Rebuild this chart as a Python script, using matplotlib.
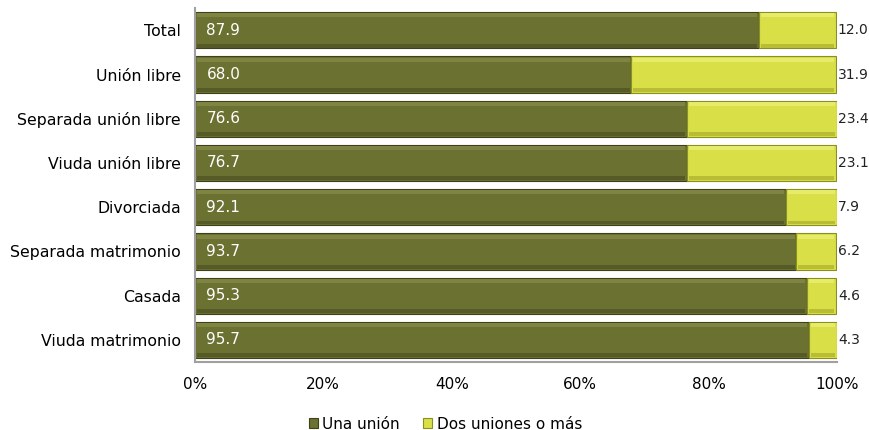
import numpy as np
import matplotlib.pyplot as plt

categories = ["Total", "Unión libre", "Separada unión libre", "Viuda unión libre",
              "Divorciada", "Separada matrimonio", "Casada", "Viuda matrimonio"]
una_union = [87.9, 68.0, 76.6, 76.7, 92.1, 93.7, 95.3, 95.7]
dos_uniones = [12.0, 31.9, 23.4, 23.1, 7.9, 6.2, 4.6, 4.3]
series_names = ["Una unión", "Dos uniones o más"]

dark = "#6b7131"
light = "#d9e047"

fig = plt.figure(figsize=(8.7, 4.3), dpi=100)
ax = fig.add_axes([0.224, 0.158, 0.738, 0.823])

y = np.arange(len(categories))
h = 0.82
una = np.array(una_union)
dos = np.array(dos_uniones)

ax.barh(y, una, height=h, color=dark, edgecolor="#3f4219", linewidth=0.8, label=series_names[0])
ax.barh(y, dos, left=una, height=h, color=light, edgecolor="#8a8f22", linewidth=0.8, label=series_names[1])

# bevel effect: lighter top strip, darker bottom strip
strip = 0.09
ax.barh(y - h / 2 + strip / 2 + 0.03, una - 0.6, left=0.3, height=strip, color="#7f8442", linewidth=0)
ax.barh(y + h / 2 - strip / 2 - 0.02, una - 0.6, left=0.3, height=strip, color="#565a26", linewidth=0)
ax.barh(y - h / 2 + strip / 2 + 0.03, dos - 0.6, left=una + 0.3, height=strip, color="#e6ec6a", linewidth=0)
ax.barh(y + h / 2 - strip / 2 - 0.02, dos - 0.6, left=una + 0.3, height=strip, color="#b8bd34", linewidth=0)

for yi, a, b in zip(y, una, dos):
    ax.text(1.8, yi, f"{a:.1f}", color="white", va="center", ha="left", fontsize=11)
    ax.text(100.15, yi, f"{b:.1f}", color="#222222", va="center", ha="left", fontsize=10, clip_on=False)

ax.set_xlim(0, 100)
ax.set_ylim(len(categories) - 0.5, -0.5)
ax.set_yticks(y)
ax.set_yticklabels(categories, fontsize=11.3)
ax.set_xticks(np.arange(0, 101, 20))
ax.set_xticklabels([f"{v}%" for v in range(0, 101, 20)], fontsize=11)
ax.tick_params(axis="y", length=0, pad=10)
ax.tick_params(axis="x", length=0, pad=11)
for s in ["top", "right"]:
    ax.spines[s].set_visible(False)
for s in ["left", "bottom"]:
    ax.spines[s].set_color("#a0a0a0")
    ax.spines[s].set_linewidth(1.5)

ax.legend(loc="upper center", bbox_to_anchor=(0.39, -0.115), ncol=2, frameon=False,
          fontsize=11, handlelength=0.6, handleheight=0.6, handletextpad=0.3, columnspacing=1.5)

fig.savefig("out.png", dpi=100)
